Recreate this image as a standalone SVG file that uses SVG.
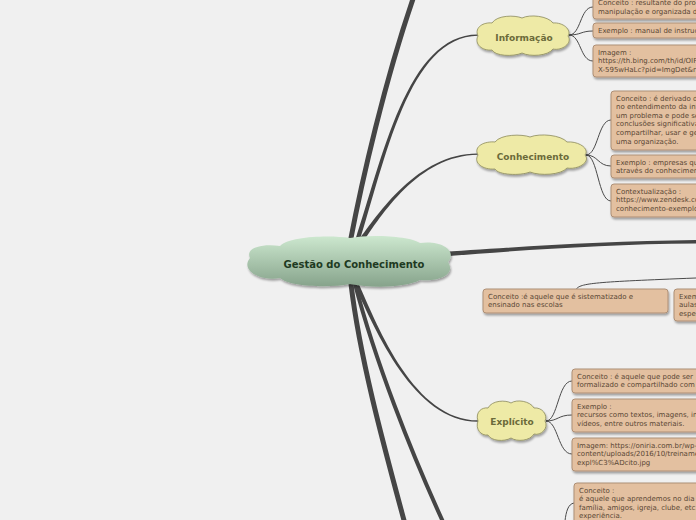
<svg xmlns="http://www.w3.org/2000/svg" width="696" height="520" viewBox="0 0 696 520">
<defs>
<linearGradient id="gc" x1="0" y1="0" x2="0" y2="1">
<stop offset="0" stop-color="#cde8cf"/>
<stop offset="1" stop-color="#86a38b"/>
</linearGradient>
<filter id="sh" x="-10%" y="-20%" width="130%" height="160%">
<feGaussianBlur in="SourceAlpha" stdDeviation="1"/>
<feOffset dx="1" dy="1.5" result="b"/>
<feComponentTransfer><feFuncA type="linear" slope="0.35"/></feComponentTransfer>
<feMerge><feMergeNode/><feMergeNode in="SourceGraphic"/></feMerge>
</filter>
</defs>
<style>
.bx{fill:#e3c0a0;stroke:#ad8f76;stroke-width:1;filter:url(#sh)}
.bt{font-family:"DejaVu Sans",Verdana,sans-serif;font-size:7px;fill:#5a4735}
.yc{fill:#eeeaa6;stroke:#8c8a5c;stroke-width:0.8;filter:url(#sh)}
.yt{font-family:"DejaVu Sans",Verdana,sans-serif;font-size:9px;font-weight:bold;fill:#6b6a3a;text-anchor:middle}
.ct{font-family:"DejaVu Sans",Verdana,sans-serif;font-size:10px;font-weight:bold;fill:#1e3a22;text-anchor:middle}
.thin{fill:none;stroke:#4a4a4a;stroke-width:1}
.thick{fill:none;stroke:#454545;stroke-linecap:round}
.tap{fill:#454545}
</style>
<rect width="696" height="520" fill="#f0f0f0"/>

<g id="connectors">
<path class="thick" stroke-width="5" d="M350,243 C362,180 385,80 414,-4"/>
<path class="tap" d="M355,241 C382,160 407,34 478,34.5 L478,35.7 C409,36 385,161 359,243 Z"/>
<path class="tap" d="M358,241 C378,214 418,153 478,153.5 L478,154.8 C418,155.5 381,216 362,243.5 Z"/>
<path class="tap" d="M436,252.5 C500,248 600,241 696,240 L696,243.5 C600,244 500,252 437,257 Z"/>
<path class="tap" d="M355,286.2 C375.5,329.8 413.6,421.9 478,421.65 L478,420.35 C414.4,420.1 378.5,328.2 359,284.4 Z"/>
<path class="thick" stroke-width="5" d="M351,284 C360,360 385,450 405,524"/>
<path class="thick" stroke-width="4" d="M355,284 C375,360 410,450 444,524"/>
<path class="thin" d="M569,35 C581,35 580,7 593,7"/>
<path class="thin" d="M569,35 C581,35 581,31 593,31"/>
<path class="thin" d="M569,35 C581,35 580,61 593,61"/>
<path class="thin" d="M586,155 C598,155 598,120 611,120"/>
<path class="thin" d="M586,155 C598,155 598,166 611,166"/>
<path class="thin" d="M586,155 C598,155 598,201 611,201"/>
<path class="thin" d="M546,421 C558,421 558,381 572,381"/>
<path class="thin" d="M546,421 C558,421 558,415 572,415"/>
<path class="thin" d="M546,421 C558,421 558,454 572,454"/>
<path class="thin" d="M576,289.5 C580,283 595,282 696,278"/>
<path class="thin" d="M565,521 C566,512 568,504 574,503"/>
</g>

<g id="central">
<path fill="url(#gc)" filter="url(#sh)" d="M250,258 C245,248 262,243 280,246 C290,236 330,235 350,238 C370,234 410,236 420,243 C440,240 458,250 448,262 C456,274 440,282 420,280 C405,288 370,288 350,284 C330,288 290,287 280,278 C260,282 240,270 250,258 Z"/>
<text class="ct" x="354" y="268">Gestão do Conhecimento</text>
</g>

<g id="informacao">
<path class="yc" d="M478,36 C474,27 484,22 492,23 C497,15 515,15 522,18 C530,14 548,16 553,23 C563,22 572,30 568,36 C573,43 562,51 553,49 C548,56 530,57 522,53 C513,57 495,56 492,50 C482,51 474,44 478,36 Z"/>
<text class="yt" x="524" y="41">Informação</text>
</g>
<g id="info-conceito">
<rect class="bx" x="593" y="-10" width="160" height="29" rx="3"/>
<text class="bt" x="598" y="5">Conceito : resultante do processamento,</text>
<text class="bt" x="598" y="13.6">manipulação e organizada de dados</text>
</g>
<g id="info-exemplo">
<rect class="bx" x="593" y="23" width="160" height="15" rx="3"/>
<text class="bt" x="598" y="33">Exemplo : manual de instruções</text>
</g>
<g id="info-imagem">
<rect class="bx" x="593" y="45" width="160" height="32" rx="3"/>
<text class="bt" x="598" y="54.5">Imagem :</text>
<text class="bt" x="598" y="63.1">https://th.bing.com/th/id/OIP.</text>
<text class="bt" x="598" y="71.7">X-595wHaLc?pid=ImgDet&amp;rs=1</text>
</g>

<g id="conhecimento">
<path class="yc" d="M478,155 C473,146 485,141 495,142 C501,134 522,134 530,137 C540,133 561,135 567,142 C579,141 590,149 585,155 C591,162 578,170 567,168 C561,175 540,176 530,172 C520,176 498,175 495,169 C483,170 473,163 478,155 Z"/>
<text class="yt" x="533" y="160">Conhecimento</text>
</g>
<g id="conh-conceito">
<rect class="bx" x="611" y="91" width="160" height="59" rx="3"/>
<text class="bt" x="616" y="100.5">Conceito :  é derivado da informação</text>
<text class="bt" x="616" y="109.1">no entendimento da informação</text>
<text class="bt" x="616" y="117.7">um problema e pode ser usado</text>
<text class="bt" x="616" y="126.3">conclusões significativas</text>
<text class="bt" x="616" y="134.9">compartilhar, usar e gerenciar</text>
<text class="bt" x="616" y="143.5">uma organização.</text>
</g>
<g id="conh-exemplo">
<rect class="bx" x="611" y="155" width="160" height="23" rx="3"/>
<text class="bt" x="616" y="164.5">Exemplo : empresas que</text>
<text class="bt" x="616" y="173.1">através do conhecimento</text>
</g>
<g id="conh-contexto">
<rect class="bx" x="611" y="184" width="160" height="33" rx="3"/>
<text class="bt" x="616" y="193.5">Contextualização :</text>
<text class="bt" x="616" y="202.1">https://www.zendesk.com.br/</text>
<text class="bt" x="616" y="210.7">conhecimento-exemplos</text>
</g>

<g id="formal-conceito">
<rect class="bx" x="483" y="289" width="185" height="24" rx="3"/>
<text class="bt" x="488" y="298.5">Conceito :é aquele que é sistematizado e</text>
<text class="bt" x="488" y="307.1">ensinado nas escolas</text>
</g>
<g id="formal-exemplo">
<rect class="bx" x="674" y="289" width="100" height="32" rx="3"/>
<text class="bt" x="679" y="298.5">Exemplo :</text>
<text class="bt" x="679" y="307.1"> aulas</text>
<text class="bt" x="679" y="315.7">especialização</text>
</g>

<g id="explicito">
<path class="yc" d="M478,421 C475,412 482,407 488,408 C492,400 506,400 511,403 C517,399 530,401 534,408 C542,407 548,415 545,421 C549,428 541,436 534,434 C530,441 517,442 511,438 C504,442 491,441 488,435 C481,436 475,429 478,421 Z"/>
<text class="yt" x="512" y="425">Explícito</text>
</g>
<g id="expl-conceito">
<rect class="bx" x="572" y="369" width="170" height="24" rx="3"/>
<text class="bt" x="577" y="378.5">Conceito : é aquele que pode ser</text>
<text class="bt" x="577" y="387.1">formalizado e compartilhado com facilidade</text>
</g>
<g id="expl-exemplo">
<rect class="bx" x="572" y="399" width="170" height="33" rx="3"/>
<text class="bt" x="577" y="408.5">Exemplo :</text>
<text class="bt" x="577" y="417.1">recursos como textos, imagens, infográficos,</text>
<text class="bt" x="577" y="425.7">vídeos, entre outros materiais.</text>
</g>
<g id="expl-imagem">
<rect class="bx" x="572" y="438" width="170" height="33" rx="3"/>
<text class="bt" x="577" y="447.5">Imagem: https://oniria.com.br/wp-</text>
<text class="bt" x="577" y="456.1">content/uploads/2016/10/treinamento-</text>
<text class="bt" x="577" y="464.7">expl%C3%ADcito.jpg</text>
</g>

<g id="tacito-conceito">
<rect class="bx" x="574" y="483" width="170" height="50" rx="3"/>
<text class="bt" x="579" y="492.5">Conceito :</text>
<text class="bt" x="579" y="501.1">é aquele que aprendemos no dia a dia,</text>
<text class="bt" x="579" y="509.7">família, amigos, igreja, clube, etc.</text>
<text class="bt" x="579" y="518.3">experiência.</text>
</g>
</svg>
